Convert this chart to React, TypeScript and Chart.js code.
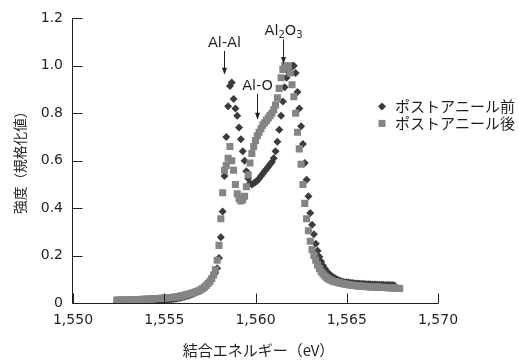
import React, { useEffect, useRef } from "react";
import { Chart, registerables } from "chart.js";

Chart.register(...registerables);

// Binding energy (eV)
const energy = [
  1552.4, 1552.5, 1552.6, 1552.7, 1552.8, 1552.9, 1553.0, 1553.1, 1553.2, 1553.3,
  1553.4, 1553.5, 1553.6, 1553.7, 1553.8, 1553.9, 1554.0, 1554.1, 1554.2, 1554.3,
  1554.4, 1554.5, 1554.6, 1554.7, 1554.8, 1554.9, 1555.0, 1555.1, 1555.2, 1555.3,
  1555.4, 1555.5, 1555.6, 1555.7, 1555.8, 1555.9, 1556.0, 1556.1, 1556.2, 1556.3,
  1556.4, 1556.5, 1556.6, 1556.7, 1556.8, 1556.9, 1557.0, 1557.1, 1557.2, 1557.3,
  1557.4, 1557.5, 1557.6, 1557.7, 1557.8, 1557.9, 1558.0, 1558.1, 1558.2, 1558.3,
  1558.4, 1558.5, 1558.6, 1558.7, 1558.8, 1558.9, 1559.0, 1559.1, 1559.2, 1559.3,
  1559.4, 1559.5, 1559.6, 1559.7, 1559.8, 1559.9, 1560.0, 1560.1, 1560.2, 1560.3,
  1560.4, 1560.5, 1560.6, 1560.7, 1560.8, 1560.9, 1561.0, 1561.1, 1561.2, 1561.3,
  1561.4, 1561.5, 1561.6, 1561.7, 1561.8, 1561.9, 1562.0, 1562.1, 1562.2, 1562.3,
  1562.4, 1562.5, 1562.6, 1562.7, 1562.8, 1562.9, 1563.0, 1563.1, 1563.2, 1563.3,
  1563.4, 1563.5, 1563.6, 1563.7, 1563.8, 1563.9, 1564.0, 1564.1, 1564.2, 1564.3,
  1564.4, 1564.5, 1564.6, 1564.7, 1564.8, 1564.9, 1565.0, 1565.1, 1565.2, 1565.3,
  1565.4, 1565.5, 1565.6, 1565.7, 1565.8, 1565.9, 1566.0, 1566.1, 1566.2, 1566.3,
  1566.4, 1566.5, 1566.6, 1566.7, 1566.8, 1566.9, 1567.0, 1567.1, 1567.2, 1567.3,
  1567.4, 1567.5, 1567.6, 1567.7, 1567.8, 1567.9,
];

// ポストアニール前 (normalized intensity)
const preAnneal: (number | null)[] = [
  0.004, 0.004, 0.005, 0.005, 0.005, 0.005, 0.006, 0.006, 0.006, 0.006,
  0.006, 0.007, 0.007, 0.007, 0.007, 0.008, 0.008, 0.008, 0.009, 0.009,
  0.009, 0.010, 0.010, 0.011, 0.011, 0.012, 0.012, 0.013, 0.014, 0.015,
  0.016, 0.017, 0.018, 0.019, 0.021, 0.022, 0.024, 0.026, 0.028, 0.031,
  0.033, 0.036, 0.039, 0.043, 0.047, 0.051, 0.056, 0.062, 0.068, 0.076,
  0.085, 0.095, 0.106, 0.116, 0.128, 0.146, 0.19, 0.277, 0.386, 0.535,
  0.70, 0.83, 0.915, 0.93, 0.86, 0.82, 0.79, 0.74, 0.69, 0.64,
  0.60, 0.555, 0.525, 0.505, 0.50, 0.505, 0.51, 0.515, 0.525, 0.535,
  0.545, 0.555, 0.565, 0.575, 0.585, 0.595, 0.61, 0.64, 0.68, 0.73,
  0.79, 0.85, 0.91, 0.95, 0.975, 0.99, 1.0, 1.0, 0.97, 0.89,
  0.82, 0.745, 0.67, 0.59, 0.52, 0.45, 0.38, 0.33, 0.29, 0.25,
  0.22, 0.195, 0.175, 0.158, 0.145, 0.134, 0.125, 0.118, 0.112, 0.107,
  0.102, 0.098, 0.095, 0.092, 0.09, 0.088, 0.087, 0.086, 0.085, 0.084,
  0.083, 0.082, 0.082, 0.081, 0.081, 0.08, 0.08, 0.079, 0.079, 0.079,
  0.078, 0.078, 0.078, 0.077, 0.077, 0.077, 0.077, 0.076, 0.076, 0.076,
  0.076, 0.075, 0.075, null, null, null,
];

// ポストアニール後 (normalized intensity)
const postAnneal: (number | null)[] = [
  0.012, 0.012, 0.012, 0.013, 0.013, 0.013, 0.014, 0.014, 0.014, 0.014,
  0.015, 0.015, 0.015, 0.015, 0.016, 0.016, 0.016, 0.017, 0.017, 0.017,
  0.018, 0.018, 0.019, 0.019, 0.02, 0.02, 0.021, 0.021, 0.022, 0.023,
  0.023, 0.024, 0.025, 0.026, 0.027, 0.029, 0.031, 0.033, 0.035, 0.037,
  0.039, 0.041, 0.043, 0.046, 0.049, 0.052, 0.056, 0.061, 0.067, 0.074,
  0.082, 0.091, 0.102, 0.118, 0.14, 0.18, 0.243, 0.355, 0.465, 0.56,
  0.58, 0.61, 0.66, 0.60, 0.56, 0.50, 0.46, 0.44, 0.43, 0.435,
  0.45, 0.49, 0.54, 0.59, 0.63, 0.66, 0.685, 0.705, 0.72, 0.735,
  0.75, 0.76, 0.77, 0.78, 0.79, 0.80, 0.815, 0.835, 0.865, 0.905,
  0.95, 0.985, 1.0, 0.995, 1.0, 0.97, 0.92, 0.87, 0.80, 0.72,
  0.65, 0.585, 0.50, 0.42, 0.355, 0.305, 0.26, 0.225, 0.20, 0.18,
  0.16, 0.145, 0.132, 0.122, 0.114, 0.107, 0.101, 0.097, 0.094, 0.091,
  0.089, 0.087, 0.085, 0.083, 0.081, 0.08, 0.078, 0.077, 0.076, 0.075,
  0.074, 0.073, 0.072, 0.072, 0.071, 0.07, 0.07, 0.069, 0.069, 0.068,
  0.068, 0.067, 0.067, 0.066, 0.066, 0.066, 0.065, 0.065, 0.064, 0.064,
  0.064, 0.063, 0.063, 0.062, 0.062, 0.061,
];

const seriesNames = ["ポストアニール前", "ポストアニール後"];
const xTicks = [1550, 1555, 1560, 1565, 1570];
const yTicks = [0, 0.2, 0.4, 0.6, 0.8, 1.0, 1.2];
const xTitle = "結合エネルギー（eV）";
const yTitle = "強度（規格化値）";

// Peak annotations: label, energy of arrow, arrow start / tip (intensity)
const peakLabels = ["Al-Al", "Al-O", "Al2O3"];
const peakEnergy = [1558.27, 1560.08, 1561.51];
const arrowStart = [1.063, 0.882, 1.112];
const arrowTip = [0.962, 0.773, 1.008];

const DARK = "#3b3b3b";
const GRAY = "#858585";
const INK = "#231f20";
const LATIN = '"DejaVu Sans", sans-serif';
const CJK = '"Noto Sans CJK JP", sans-serif';

function drawLabel(ctx: CanvasRenderingContext2D, text: string, cx: number, baseline: number) {
  const mainFont = `14.5px ${LATIN}`;
  const subFont = `10px ${LATIN}`;
  const parts: { t: string; sub: boolean }[] = [];
  for (let i = 0; i < text.length; i++) {
    const ch = text[i];
    const sub = /[0-9]/.test(ch) && i > 0 && /[A-Za-z]/.test(text[i - 1]);
    parts.push({ t: ch, sub });
  }
  let total = 0;
  const widths = parts.map((p) => {
    ctx.font = p.sub ? subFont : mainFont;
    const w = ctx.measureText(p.t).width;
    total += w;
    return w;
  });
  let x = cx - total / 2;
  ctx.textAlign = "left";
  ctx.textBaseline = "alphabetic";
  parts.forEach((p, i) => {
    ctx.font = p.sub ? subFont : mainFont;
    ctx.fillText(p.t, x, baseline + (p.sub ? 3 : 0));
    x += widths[i];
  });
}

const decorPlugin = {
  id: "decor",
  afterDraw(chart: any) {
    const { ctx, chartArea, scales } = chart;
    const xs = scales.x;
    const ys = scales.y;
    ctx.save();
    ctx.strokeStyle = INK;
    ctx.fillStyle = INK;
    ctx.lineWidth = 1;

    const axX = Math.round(chartArea.left) - 0.5;
    const axY = Math.round(chartArea.bottom) + 0.5;
    // axis lines
    ctx.beginPath();
    ctx.moveTo(axX, Math.round(chartArea.top));
    ctx.lineTo(axX, axY);
    ctx.lineTo(Math.round(chartArea.right) + 0.5, axY);
    ctx.stroke();
    // inward ticks
    ctx.beginPath();
    yTicks.forEach((v) => {
      const py = Math.round(ys.getPixelForValue(v)) + 0.5;
      ctx.moveTo(axX, py);
      ctx.lineTo(axX + 10, py);
    });
    xTicks.forEach((v) => {
      const px = Math.round(xs.getPixelForValue(v)) + 0.5;
      ctx.moveTo(px, axY);
      ctx.lineTo(px, axY - 10);
    });
    ctx.stroke();

    // axis titles
    ctx.font = `15px ${CJK}`;
    ctx.textAlign = "center";
    ctx.textBaseline = "middle";
    ctx.fillText(xTitle, (chartArea.left + chartArea.right) / 2 + 3, chartArea.bottom + 47);
    ctx.save();
    ctx.translate(20, (chartArea.top + chartArea.bottom) / 2 - 1.5);
    ctx.rotate(-Math.PI / 2);
    ctx.font = `13.7px ${CJK}`;
    ctx.fillText(yTitle, 0, 0);
    ctx.restore();

    // peak annotations
    peakLabels.forEach((label, i) => {
      const px = Math.round(xs.getPixelForValue(peakEnergy[i])) + 0.5;
      const y0 = ys.getPixelForValue(arrowStart[i]);
      const y1 = ys.getPixelForValue(arrowTip[i]);
      ctx.beginPath();
      ctx.moveTo(px, y0);
      ctx.lineTo(px, y1 - 5);
      ctx.stroke();
      ctx.beginPath();
      ctx.moveTo(px - 2.5, y1 - 7);
      ctx.lineTo(px + 2.5, y1 - 7);
      ctx.lineTo(px, y1);
      ctx.closePath();
      ctx.fill();
      drawLabel(ctx, label, px, y0 - 4);
    });

    // legend
    const lx = chartArea.right - 56;
    const ly = [chartArea.top + 88, chartArea.top + 105];
    ctx.fillStyle = DARK;
    ctx.beginPath();
    ctx.moveTo(lx, ly[0] - 4);
    ctx.lineTo(lx + 4, ly[0]);
    ctx.lineTo(lx, ly[0] + 4);
    ctx.lineTo(lx - 4, ly[0]);
    ctx.closePath();
    ctx.fill();
    ctx.fillStyle = GRAY;
    ctx.fillRect(lx - 3.5, ly[1] - 3.5, 7, 7);
    ctx.fillStyle = INK;
    ctx.font = `15px ${CJK}`;
    ctx.textAlign = "left";
    ctx.textBaseline = "middle";
    seriesNames.forEach((name, i) => ctx.fillText(name, lx + 13, ly[i]));
    ctx.restore();
  },
};

export default function App() {
  const ref = useRef<HTMLCanvasElement>(null);
  useEffect(() => {
    if (!ref.current) return;
    const toPoints = (vals: (number | null)[]) =>
      energy
        .map((e, i) => ({ x: e, y: vals[i] }))
        .filter((p) => p.y !== null && p.y !== undefined);
    const chart = new Chart(ref.current, {
      type: "scatter",
      data: {
        datasets: [
          {
            label: seriesNames[0],
            data: toPoints(preAnneal) as any,
            pointStyle: "rectRot",
            pointRadius: 4,
            backgroundColor: DARK,
            borderWidth: 0,
            order: 2,
          },
          {
            label: seriesNames[1],
            data: toPoints(postAnneal) as any,
            pointStyle: "rect",
            pointRadius: 5,
            backgroundColor: GRAY,
            borderWidth: 0,
            order: 1,
          },
        ],
      },
      options: {
        responsive: false,
        animation: false,
        devicePixelRatio: 1,
        events: [],
        layout: { padding: { left: 0, top: 16, right: 81, bottom: 0 } },
        plugins: { legend: { display: false }, tooltip: { enabled: false } },
        scales: {
          x: {
            type: "linear",
            min: xTicks[0],
            max: xTicks[xTicks.length - 1],
            afterBuildTicks: (s: any) => {
              s.ticks = xTicks.map((v) => ({ value: v }));
            },
            afterFit: (s: any) => {
              s.height = 57;
            },
            grid: { display: false, drawTicks: false },
            border: { display: false },
            ticks: {
              autoSkip: false,
              maxRotation: 0,
              padding: 9,
              color: INK,
              font: { family: LATIN, size: 14 },
              callback: (v: any) => Number(v).toLocaleString("en-US"),
            },
          },
          y: {
            type: "linear",
            min: yTicks[0],
            max: yTicks[yTicks.length - 1],
            afterBuildTicks: (s: any) => {
              s.ticks = yTicks.map((v) => ({ value: v }));
            },
            afterFit: (s: any) => {
              s.width = 73;
            },
            grid: { display: false, drawTicks: false },
            border: { display: false },
            ticks: {
              autoSkip: false,
              padding: 10,
              color: INK,
              font: { family: LATIN, size: 14 },
              callback: (v: any) => (Number(v) === 0 ? "0" : Number(v).toFixed(1)),
            },
          },
        },
      },
      plugins: [decorPlugin],
    });
    return () => chart.destroy();
  }, []);
  return (
    <div style={{ position: "fixed", left: 0, top: 0, width: 519, height: 360, background: "#fff" }}>
      <canvas ref={ref} width={519} height={360} style={{ display: "block" }} />
    </div>
  );
}
